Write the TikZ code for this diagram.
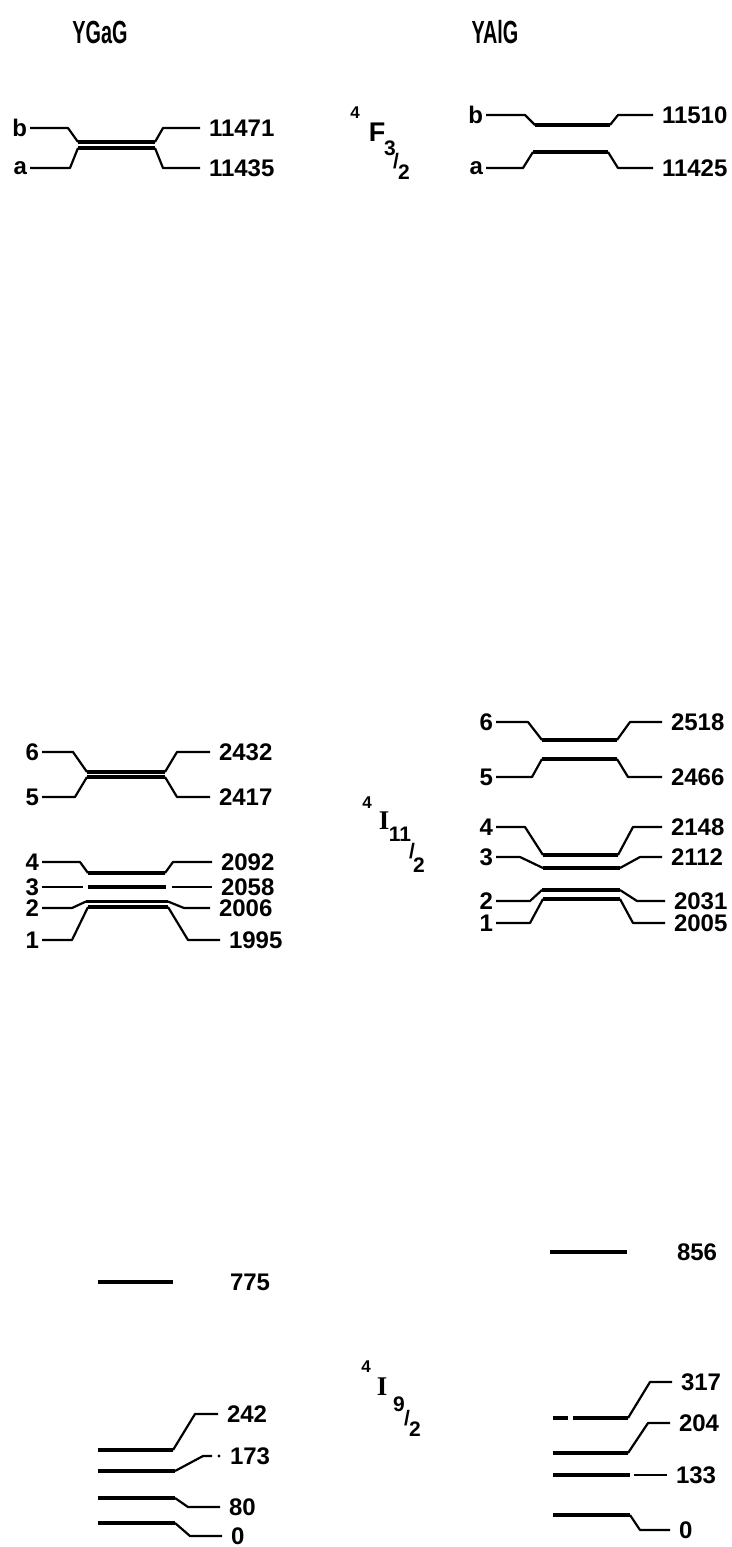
\documentclass[tikz,border=0pt]{standalone}
\usepackage{fontspec}
\setmainfont{Liberation Sans}
\newfontfamily\narrowsans[FakeStretch=0.62]{Liberation Sans}
\newfontfamily\romanI{Liberation Serif}
\newcommand{\levnumfont}{\fontsize{24}{24}\selectfont\bfseries}
\newcommand{\hdfont}{\narrowsans\fontsize{32}{32}\selectfont\bfseries}
\tikzset{
  lev/.style={line width=3.8pt},
  leg/.style={line width=2.2pt,line join=round},
  lab/.style={font=\levnumfont,inner sep=1pt,outer sep=2pt,anchor=east},
  val/.style={font=\levnumfont,inner sep=1pt,outer sep=8pt,anchor=west},
  head/.style={font=\hdfont,inner sep=0pt},
  tsup/.style={font=\fontsize{17}{17}\selectfont\bfseries,inner sep=0pt},
  tbig/.style={font=\fontsize{27}{27}\selectfont\bfseries,inner sep=0pt},
  tbigI/.style={font=\romanI\fontsize{27}{27}\selectfont\bfseries,inner sep=0pt},
  tsub/.style={font=\fontsize{21}{21}\selectfont\bfseries,inner sep=0pt},
}

\begin{document}
\begin{tikzpicture}[x=1pt,y=-1pt]
\useasboundingbox (0,0) rectangle (731,1547);
% crystal names
\node[head] (ygag) at (100,32) {YGaG};
\node[head] (yalg) at (495,32) {YAlG};
% term symbols
\node[tsup] (tf4) at (355,113) {4};
\node[tbig] (tfF) at (377,132) {F};
\node[tsub] (tf3) at (390,148) {3};
\node[tsub] (tfsl) at (396,161) {/};
\node[tsub] (tf2) at (404,172) {2};
\node[tsup] (ti4) at (367,803) {4};
\node[tbigI] (tiI) at (384,821) {I};
\node[tsub] (ti11) at (400,834) {11};
\node[tsub] (tisl) at (412,851) {/};
\node[tsub] (ti2) at (419,865) {2};
\node[tsup] (tj4) at (366,1367) {4};
\node[tbigI] (tjI) at (382,1387) {I};
\node[tsub] (tj9) at (399,1404) {9};
\node[tsub] (tjsl) at (407,1418) {/};
\node[tsub] (tj2) at (415,1429) {2};
% YGaG, 4F3/2
\node[lab] (gfb) at (30,128) {b};
\node[val] (gfbv) at (200,128) {11471};
\coordinate (gfb1) at (68,128); \coordinate (gfbl) at (78,142); \coordinate (gfbr) at (155,142); \coordinate (gfb2) at (163,128);
\draw[leg] (gfb.east) -- (gfb1) -- (gfbl); \draw[lev] (gfbl) -- (gfbr); \draw[leg] (gfbr) -- (gfb2) -- (gfbv.west);
\node[lab] (gfa) at (30,168) {a};
\node[val] (gfav) at (200,168) {11435};
\coordinate (gfa1) at (70,168); \coordinate (gfal) at (78,148); \coordinate (gfar) at (155,148); \coordinate (gfa2) at (163,168);
\draw[leg] (gfa.east) -- (gfa1) -- (gfal); \draw[lev] (gfal) -- (gfar); \draw[leg] (gfar) -- (gfa2) -- (gfav.west);
% YAlG, 4F3/2
\node[lab] (afb) at (486,115) {b};
\node[val] (afbv) at (653,115) {11510};
\coordinate (afb1) at (525,115); \coordinate (afbl) at (535,125); \coordinate (afbr) at (610,125); \coordinate (afb2) at (618,115);
\draw[leg] (afb.east) -- (afb1) -- (afbl); \draw[lev] (afbl) -- (afbr); \draw[leg] (afbr) -- (afb2) -- (afbv.west);
\node[lab] (afa) at (486,168) {a};
\node[val] (afav) at (653,168) {11425};
\coordinate (afa1) at (523,168); \coordinate (afal) at (533,152); \coordinate (afar) at (608,152); \coordinate (afa2) at (618,168);
\draw[leg] (afa.east) -- (afa1) -- (afal); \draw[lev] (afal) -- (afar); \draw[leg] (afar) -- (afa2) -- (afav.west);
% YGaG, 4I11/2
\node[lab] (g6) at (42,752) {6};
\node[val] (g6v) at (210,752) {2432};
\coordinate (g6a) at (73,752); \coordinate (g6l) at (87,772); \coordinate (g6r) at (165,772); \coordinate (g6b) at (177,752);
\draw[leg] (g6.east) -- (g6a) -- (g6l); \draw[lev] (g6l) -- (g6r); \draw[leg] (g6r) -- (g6b) -- (g6v.west);
\node[lab] (g5) at (42,797) {5};
\node[val] (g5v) at (210,797) {2417};
\coordinate (g5a) at (75,797); \coordinate (g5l) at (87,777); \coordinate (g5r) at (165,777); \coordinate (g5b) at (177,797);
\draw[leg] (g5.east) -- (g5a) -- (g5l); \draw[lev] (g5l) -- (g5r); \draw[leg] (g5r) -- (g5b) -- (g5v.west);
\node[lab] (g4) at (42,862) {4};
\node[val] (g4v) at (212,862) {2092};
\coordinate (g4a) at (80,862); \coordinate (g4l) at (88,873); \coordinate (g4r) at (165,873); \coordinate (g4b) at (173,862);
\draw[leg] (g4.east) -- (g4a) -- (g4l); \draw[lev] (g4l) -- (g4r); \draw[leg] (g4r) -- (g4b) -- (g4v.west);
\node[lab] (g3) at (42,887) {3};
\node[val] (g3v) at (212,887) {2058};
\coordinate (g3a) at (83,887); \coordinate (g3l) at (88,887); \coordinate (g3r) at (166,887); \coordinate (g3b) at (172,887);
\draw[leg] (g3.east) -- (g3a); \draw[lev] (g3l) -- (g3r); \draw[leg] (g3b) -- (g3v.west);
\node[lab] (g2) at (42,908) {2};
\node[val] (g2v) at (210,908) {2006};
\coordinate (g2a) at (72,908); \coordinate (g2l) at (86,901.5); \coordinate (g2r) at (168,901.5); \coordinate (g2b) at (184,908);
\draw[leg] (g2.east) -- (g2a) -- (g2l); \draw[lev] (g2l) -- (g2r); \draw[leg] (g2r) -- (g2b) -- (g2v.west);
\node[lab] (g1) at (42,940) {1};
\node[val] (g1v) at (220,940) {1995};
\coordinate (g1a) at (72,940); \coordinate (g1l) at (88,907); \coordinate (g1r) at (168,907); \coordinate (g1b) at (188,940);
\draw[leg] (g1.east) -- (g1a) -- (g1l); \draw[lev] (g1l) -- (g1r); \draw[leg] (g1r) -- (g1b) -- (g1v.west);
% YAlG, 4I11/2
\node[lab] (a6) at (496,722) {6};
\node[val] (a6v) at (662,722) {2518};
\coordinate (a6a) at (528,722); \coordinate (a6l) at (542,740); \coordinate (a6r) at (617,740); \coordinate (a6b) at (630,722);
\draw[leg] (a6.east) -- (a6a) -- (a6l); \draw[lev] (a6l) -- (a6r); \draw[leg] (a6r) -- (a6b) -- (a6v.west);
\node[lab] (a5) at (496,777) {5};
\node[val] (a5v) at (662,777) {2466};
\coordinate (a5a) at (532,777); \coordinate (a5l) at (542,759); \coordinate (a5r) at (617,759); \coordinate (a5b) at (628,777);
\draw[leg] (a5.east) -- (a5a) -- (a5l); \draw[lev] (a5l) -- (a5r); \draw[leg] (a5r) -- (a5b) -- (a5v.west);
\node[lab] (a4) at (496,827) {4};
\node[val] (a4v) at (662,827) {2148};
\coordinate (a4a) at (525,827); \coordinate (a4l) at (543,855); \coordinate (a4r) at (618,855); \coordinate (a4b) at (633,827);
\draw[leg] (a4.east) -- (a4a) -- (a4l); \draw[lev] (a4l) -- (a4r); \draw[leg] (a4r) -- (a4b) -- (a4v.west);
\node[lab] (a3) at (496,857) {3};
\node[val] (a3v) at (662,857) {2112};
\coordinate (a3a) at (520,857); \coordinate (a3l) at (543,868); \coordinate (a3r) at (620,868); \coordinate (a3b) at (640,857);
\draw[leg] (a3.east) -- (a3a) -- (a3l); \draw[lev] (a3l) -- (a3r); \draw[leg] (a3r) -- (a3b) -- (a3v.west);
\node[lab] (a2) at (496,901) {2};
\node[val] (a2v) at (665,901) {2031};
\coordinate (a2a) at (530,901); \coordinate (a2l) at (542,890); \coordinate (a2r) at (620,890); \coordinate (a2b) at (637,901);
\draw[leg] (a2.east) -- (a2a) -- (a2l); \draw[lev] (a2l) -- (a2r); \draw[leg] (a2r) -- (a2b) -- (a2v.west);
\node[lab] (a1) at (496,923) {1};
\node[val] (a1v) at (665,923) {2005};
\coordinate (a1a) at (530,923); \coordinate (a1l) at (543,899); \coordinate (a1r) at (620,899); \coordinate (a1b) at (633,923);
\draw[leg] (a1.east) -- (a1a) -- (a1l); \draw[lev] (a1l) -- (a1r); \draw[leg] (a1r) -- (a1b) -- (a1v.west);
% YGaG, 4I9/2
\coordinate (gg775l) at (98,1282); \coordinate (gg775r) at (173,1282);
\node[val] (gg775v) at (221,1282) {775};
\draw[lev] (gg775l) -- (gg775r);
\coordinate (gg242l) at (98,1450); \coordinate (gg242r) at (173,1450); \coordinate (gg242a) at (195,1414);
\node[val] (gg242v) at (218,1414) {242};
\draw[lev] (gg242l) -- (gg242r); \draw[leg] (gg242r) -- (gg242a) -- (gg242v.west);
\coordinate (gg173l) at (98,1471); \coordinate (gg173r) at (175,1471); \coordinate (gg173a) at (203,1456); \coordinate (gg173b) at (212,1456); \coordinate (gg173d) at (219,1456);
\node[val] (gg173v) at (221,1456) {173};
\draw[lev] (gg173l) -- (gg173r); \draw[leg] (gg173r) -- (gg173a) -- (gg173b);
\fill (gg173d) circle (1.6pt);
\coordinate (gg80l) at (98,1498); \coordinate (gg80r) at (175,1498); \coordinate (gg80a) at (188,1507);
\node[val] (gg80v) at (220,1507) {80};
\draw[lev] (gg80l) -- (gg80r); \draw[leg] (gg80r) -- (gg80a) -- (gg80v.west);
\coordinate (gg0l) at (98,1523); \coordinate (gg0r) at (175,1523); \coordinate (gg0a) at (190,1536);
\node[val] (gg0v) at (222,1536) {0};
\draw[lev] (gg0l) -- (gg0r); \draw[leg] (gg0r) -- (gg0a) -- (gg0v.west);
% YAlG, 4I9/2
\coordinate (ag856l) at (550,1252); \coordinate (ag856r) at (627,1252);
\node[val] (ag856v) at (668,1252) {856};
\draw[lev] (ag856l) -- (ag856r);
\coordinate (ag317l) at (553,1418); \coordinate (ag317r) at (628,1418); \coordinate (ag317a) at (650,1382);
\node[val] (ag317v) at (672,1382) {317};
\draw[lev,dash pattern=on 15pt off 5pt on 60pt] (ag317l) -- (ag317r); \draw[leg] (ag317r) -- (ag317a) -- (ag317v.west);
\coordinate (ag204l) at (553,1453); \coordinate (ag204r) at (628,1453); \coordinate (ag204a) at (648,1423);
\node[val] (ag204v) at (670,1423) {204};
\draw[lev] (ag204l) -- (ag204r); \draw[leg] (ag204r) -- (ag204a) -- (ag204v.west);
\coordinate (ag133l) at (553,1475); \coordinate (ag133r) at (630,1475); \coordinate (ag133b) at (634,1475);
\node[val] (ag133v) at (667,1475) {133};
\draw[lev] (ag133l) -- (ag133r); \draw[leg] (ag133b) -- (ag133v.west);
\coordinate (ag0l) at (553,1515); \coordinate (ag0r) at (630,1515); \coordinate (ag0a) at (640,1530);
\node[val] (ag0v) at (670,1530) {0};
\draw[lev] (ag0l) -- (ag0r); \draw[leg] (ag0r) -- (ag0a) -- (ag0v.west);
\end{tikzpicture}
\end{document}
